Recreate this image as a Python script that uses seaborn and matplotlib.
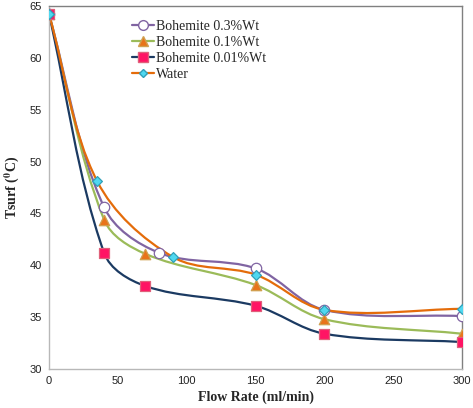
import numpy as np
import pandas as pd
import matplotlib
matplotlib.use("Agg")
import matplotlib.pyplot as plt
import seaborn as sns
from matplotlib.path import Path
from matplotlib.patches import PathPatch
from matplotlib.lines import Line2D

flow_rate = {
    "Bohemite 0.3%Wt": [0, 40, 80, 150, 200, 300],
    "Bohemite 0.1%Wt": [0, 40, 70, 150, 200, 300],
    "Bohemite 0.01%Wt": [0, 40, 70, 150, 200, 300],
    "Water": [0, 35, 90, 150, 200, 300],
}
tsurf = {
    "Bohemite 0.3%Wt": [64.2, 45.6, 41.2, 39.7, 35.7, 35.1],
    "Bohemite 0.1%Wt": [64.2, 44.4, 41.1, 38.1, 34.8, 33.4],
    "Bohemite 0.01%Wt": [64.2, 41.2, 38.0, 36.1, 33.4, 32.6],
    "Water": [64.2, 48.1, 40.8, 39.1, 35.7, 35.8],
}
series = ["Bohemite 0.3%Wt", "Bohemite 0.1%Wt", "Bohemite 0.01%Wt", "Water"]

line_col = {"Bohemite 0.3%Wt": "#8064A2", "Bohemite 0.1%Wt": "#9BBB59",
            "Bohemite 0.01%Wt": "#1B3A62", "Water": "#E46C0A"}
mk = {"Bohemite 0.3%Wt": "o", "Bohemite 0.1%Wt": "^",
      "Bohemite 0.01%Wt": "s", "Water": "D"}
mk_face = {"Bohemite 0.3%Wt": "white", "Bohemite 0.1%Wt": "#E8741A",
           "Bohemite 0.01%Wt": "#FF1464", "Water": "#4FD8F0"}
mk_edge = {"Bohemite 0.3%Wt": "#8064A2", "Bohemite 0.1%Wt": "#D0A050",
           "Bohemite 0.01%Wt": "#E0607A", "Water": "#31A0B8"}
mk_size = {"Bohemite 0.3%Wt": 7.5, "Bohemite 0.1%Wt": 7.5,
           "Bohemite 0.01%Wt": 7.5, "Water": 5}

rows = []
for s in series:
    for x, y in zip(flow_rate[s], tsurf[s]):
        rows.append({"Flow": x, "Tsurf": y, "Series": s})
df = pd.DataFrame(rows)

sns.set_style("white")
plt.rcParams["mathtext.fontset"] = "stix"
fig = plt.figure(figsize=(4.73, 4.08), dpi=100)
ax = fig.add_axes([0.1036, 0.0956, 0.8734, 0.8897])
ax.set_xlim(0, 300)
ax.set_ylim(30, 65)

# pixel scale so the smoothing behaves like it does on screen
bb = ax.get_window_extent()
sx = bb.width / 300.0
sy = bb.height / 35.0


def smooth_path(xs, ys):
    # smoothed line: bezier segments, tangents scaled by segment length
    p = np.column_stack([np.asarray(xs) * sx, np.asarray(ys) * sy]).astype(float)
    n = len(p)
    tang = []
    for i in range(n):
        a = p[max(i - 1, 0)]
        b = p[min(i + 1, n - 1)]
        d = b - a
        tang.append(d / np.hypot(*d))
    verts = [p[0]]
    codes = [Path.MOVETO]
    for i in range(n - 1):
        L = np.hypot(*(p[i + 1] - p[i]))
        c1 = p[i] + tang[i] * L / 3
        c2 = p[i + 1] - tang[i + 1] * L / 3
        verts += [c1, c2, p[i + 1]]
        codes += [Path.CURVE4] * 3
    verts = np.array(verts)
    verts[:, 0] /= sx
    verts[:, 1] /= sy
    return Path(verts, codes)


for s in series:
    ax.add_patch(PathPatch(smooth_path(flow_rate[s], tsurf[s]), facecolor="none",
                           edgecolor=line_col[s], lw=1.6, zorder=2))

for s in series:
    sub = df[df["Series"] == s]
    sns.scatterplot(data=sub, x="Flow", y="Tsurf", ax=ax, marker=mk[s],
                    s=mk_size[s] ** 2, color=mk_face[s], edgecolor=mk_edge[s],
                    linewidth=0.9, zorder=3, legend=False)

ax.set_xlim(0, 300)
ax.set_ylim(30, 65)
ax.set_xticks([0, 50, 100, 150, 200, 250, 300])
ax.set_yticks([30, 35, 40, 45, 50, 55, 60, 65])
ax.tick_params(axis="both", labelsize=8, length=3, pad=2,
               direction="out", width=0.8, colors="#B0B0B0", labelcolor="#222222")
for side in ["left", "bottom"]:
    ax.spines[side].set_color("#B8B8B8")
for side in ["top", "right"]:
    ax.spines[side].set_color("#808080")
for sp in ax.spines.values():
    sp.set_linewidth(1.0)
for lab in ax.get_xticklabels() + ax.get_yticklabels():
    lab.set_family(["Liberation Sans", "DejaVu Sans"])

ax.set_xlabel("Flow Rate (ml/min)", fontsize=10, fontweight="bold",
              family=["Liberation Serif", "DejaVu Serif"], labelpad=3)
ax.set_ylabel(r"Tsurf ($\mathbf{^{0}}$C)", fontsize=10, fontweight="bold",
              family=["Liberation Serif", "DejaVu Serif"], labelpad=6)

handles = [Line2D([], [], color=line_col[s], lw=1.6, marker=mk[s],
                  markersize=mk_size[s] - 0.5, markerfacecolor=mk_face[s],
                  markeredgecolor=mk_edge[s]) for s in series]
ax.legend(handles, series, loc="upper left", bbox_to_anchor=(0.2, 0.962),
          frameon=False, handlelength=1.6, handletextpad=0.15, labelspacing=0.22,
          borderpad=0, borderaxespad=0,
          prop={"family": ["Liberation Serif", "DejaVu Serif"], "size": 10})

fig.savefig("out.png", dpi=100)
